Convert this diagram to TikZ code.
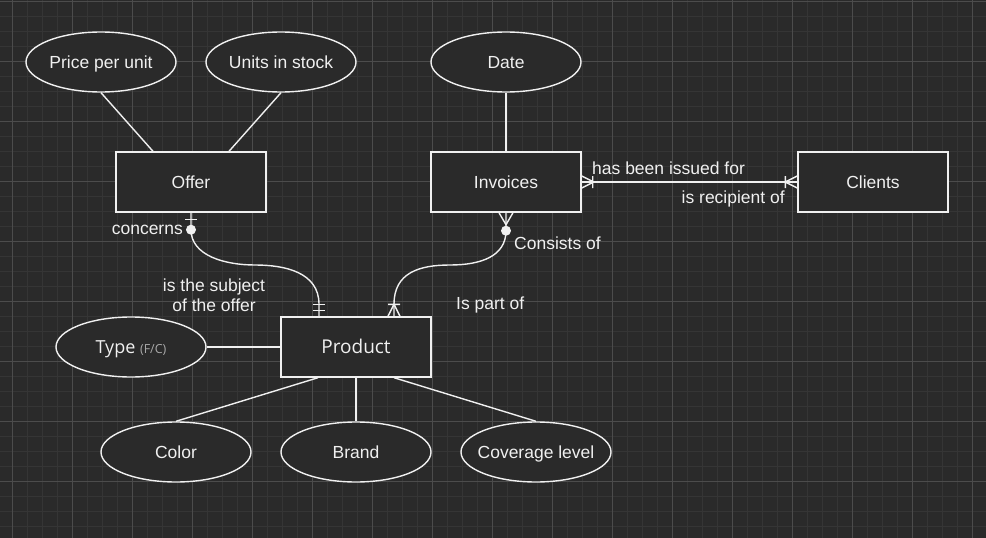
\documentclass[tikz,border=0pt]{standalone}
\usepackage{fontspec}
\setmainfont{Liberation Sans}
\newfontfamily\uifont{Open Sans}
\usetikzlibrary{shapes.geometric}
\definecolor{bg}{HTML}{2A2A2A}
\definecolor{gridminor}{HTML}{353535}
\definecolor{gridmajor}{HTML}{4C4C4C}
\definecolor{ink}{HTML}{F0F0F0}
\definecolor{faint}{HTML}{A8A8A8}
\begin{document}
\begin{tikzpicture}[x=1pt, y=-1pt,
    entity/.style={draw=ink, fill=bg, line width=1.4pt, minimum width=150pt, minimum height=60pt, inner sep=0pt, text height=15pt, text depth=1.5pt, text=ink, font=\fontsize{17.5}{20}\selectfont},
    attr/.style={entity, ellipse, inner xsep=-8pt},
    rel/.style={draw=ink, line width=1.4pt},
    lbl/.style={text=ink, inner sep=0pt, font=\fontsize{17.5}{20}\selectfont}]
    \useasboundingbox (0,0) rectangle (986,538) ;
    \fill[bg] (0,0) rectangle (986,538) ;
    \foreach \x in {12,27,...,986} \draw[gridminor] (\x,0) -- (\x,538) ;
    \foreach \y in {1,16,...,538} \draw[gridminor] (0,\y) -- (986,\y) ;
    \foreach \x in {12,72,...,986} \draw[gridmajor] (\x,0) -- (\x,538) ;
    \foreach \y in {1,61,...,538} \draw[gridmajor] (0,\y) -- (986,\y) ;

    \node[attr] (price) at (101,62) {Price per unit} ;
    \node[attr] (stock) at (281,62) {Units in stock} ;
    \node[attr] (date) at (506,62) {Date} ;
    \node[entity] (offer) at (191,182) {Offer} ;
    \node[entity] (invoices) at (506,182) {Invoices} ;
    \node[entity] (clients) at (873,182) {Clients} ;
    \node[entity, font=\uifont\fontsize{19}{22}\selectfont] (product) at (356,347) {Product} ;
    \node[attr, font=\uifont\fontsize{18}{22}\selectfont] (type) at (131,347) {Type {\fontsize{12.5}{14}\selectfont\color{faint}(F/C)}} ;
    \node[attr] (color) at (176,452) {Color} ;
    \node[attr] (brand) at (356,452) {Brand} ;
    \node[attr] (coverage) at (536,452) {Coverage level} ;

    \draw[rel] (price.south) -- ([xshift=-38pt]offer.north) ;
    \draw[rel] (stock.south) -- ([xshift=38pt]offer.north) ;
    \draw[rel] (date) -- (invoices) ;
    \draw[rel] (type) -- (product) ;
    \draw[rel] ([xshift=-38pt]product.south) -- (color.north) ;
    \draw[rel] (product) -- (brand) ;
    \draw[rel] ([xshift=38pt]product.south) -- (coverage.north) ;

    \draw[rel] (invoices) -- (clients) ;
    \draw[rel, shift={(invoices.east)}] (0,-6) -- (12,0) -- (0,6) (11,-6) -- (11,6) ;
    \draw[rel, shift={(clients.west)}] (0,-6) -- (-12,0) -- (0,6) (-12,-6) -- (-12,6) ;

    \coordinate (m1) at (255,265) ;
    \coordinate (m2) at (450,265) ;
    \draw[rel] (offer.south) -- ++(0,17) .. controls +(0,26) and +(-30,0) .. (m1) .. controls +(30,0) and +(0,-32) .. ([xshift=-37pt,yshift=12pt]product.north) -- ([xshift=-37pt]product.north) ;
    \draw[rel, shift={(offer.south)}] (-6,7) -- (6,7) ;
    \fill[ink, shift={(offer.south)}] (0,17) circle[radius=5pt] ;
    \draw[rel, shift={([xshift=-37pt]product.north)}] (-6,-12) -- (6,-12) (-6,-6) -- (6,-6) ;

    \draw[rel] (invoices.south) -- ++(0,18) .. controls +(0,26) and +(30,0) .. (m2) .. controls +(-30,0) and +(0,-32) .. ([xshift=38pt,yshift=12pt]product.north) -- ([xshift=38pt]product.north) ;
    \draw[rel, shift={(invoices.south)}] (-7,0) -- (0,12) -- (7,0) ;
    \fill[ink, shift={(invoices.south)}] (0,18) circle[radius=5pt] ;
    \draw[rel, shift={([xshift=38pt]product.north)}] (-6,0) -- (0,-12) -- (6,0) (-6,-12) -- (6,-12) ;

    \node[lbl, anchor=base east] (concerns) at (183,234) {concerns} ;
    \node[lbl, align=center] (subject) at (214,295) {is the subject\\of the offer} ;
    \node[lbl, anchor=base west] (consists) at (514,249) {Consists of} ;
    \node[lbl, anchor=base west] (partof) at (456,309) {Is part of} ;
    \node[lbl, anchor=base west] (issued) at (592,174) {has been issued for} ;
    \node[lbl, anchor=base east] (recipient) at (785,203) {is recipient of} ;
\end{tikzpicture}
\end{document}
